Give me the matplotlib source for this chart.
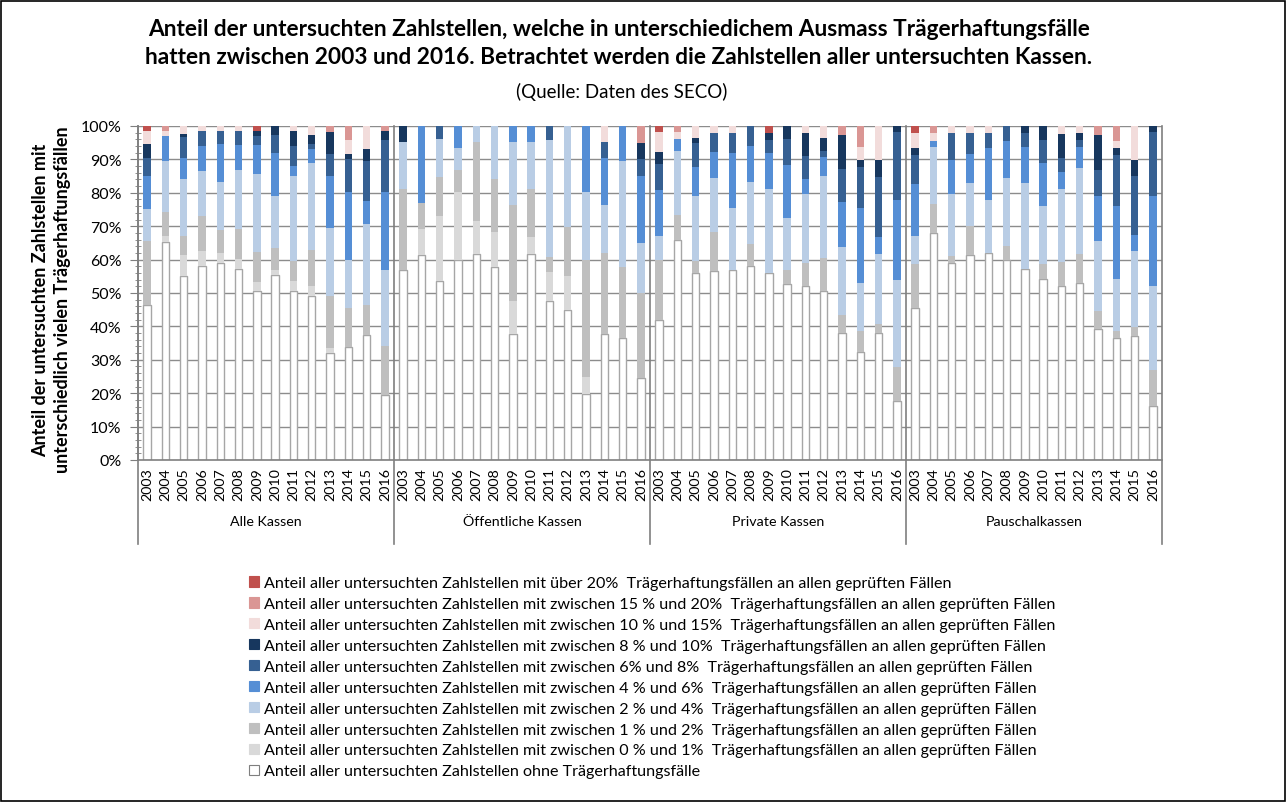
import matplotlib
matplotlib.use("Agg")
import matplotlib.pyplot as plt
import numpy as np
from matplotlib.patches import Rectangle, Patch
from matplotlib.ticker import MultipleLocator, FuncFormatter

plt.rcParams['font.family'] = ['Lato', 'DejaVu Sans']

years = [str(y) for y in range(2003, 2017)]
groups = ["Alle Kassen", "Öffentliche Kassen", "Private Kassen", "Pauschalkassen"]

ohne = [46.5, 65.4, 55.2, 58.2, 59.0, 57.2, 50.6, 55.4, 50.6, 49.0, 31.9, 33.9, 37.5, 19.5,
        56.9, 61.4, 53.6, 59.9, 61.7, 57.8, 37.7, 61.7, 47.5, 44.8, 19.7, 37.7, 36.6, 24.6,
        41.9, 65.9, 56.0, 56.7, 56.9, 58.2, 56.0, 52.7, 52.1, 50.6, 38.0, 32.4, 38.0, 17.6,
        45.4, 67.9, 59.0, 61.5, 62.0, 59.8, 57.2, 54.2, 52.1, 53.0, 39.3, 36.6, 37.2, 16.3]
p0_1 = [0, 1.7, 6.2, 4.4, 3.0, 3.0, 2.8, 1.6, 3.1, 3.0, 1.7, 0, 0, 0,
        0, 7.9, 19.5, 20.2, 9.9, 10.6, 10.0, 5.2, 8.9, 10.2, 5.1, 0, 0, 0,
        0, 0, 0, 0, 0, 0, 0, 0, 0, 0, 0, 0, 0, 0,
        0, 0, 0, 0, 0, 0, 0, 0, 0, 0, 0, 0, 0, 0]
p1_2 = [19.2, 7.3, 5.8, 10.6, 6.9, 8.9, 8.8, 6.6, 6.0, 10.8, 15.6, 11.6, 8.8, 14.6,
        24.2, 7.6, 11.6, 6.6, 23.7, 15.8, 28.5, 14.2, 4.4, 14.9, 35.2, 24.3, 21.2, 25.3,
        17.9, 7.5, 3.7, 11.7, 0, 6.4, 0, 4.1, 6.8, 9.8, 5.3, 6.1, 2.8, 10.2,
        13.3, 8.7, 2.0, 8.6, 0, 4.4, 0, 4.4, 7.3, 8.6, 5.2, 2.1, 2.6, 10.6]
p2_4 = [9.5, 15.1, 17.0, 13.4, 14.3, 17.7, 23.5, 15.5, 25.4, 26.2, 20.4, 14.5, 24.4, 22.9,
        14.2, 0, 11.4, 6.6, 4.7, 15.8, 19.1, 14.2, 35.0, 30.1, 20.1, 14.2, 31.7, 15.0,
        7.4, 19.1, 19.2, 15.9, 18.6, 18.7, 25.2, 15.6, 20.6, 24.5, 20.6, 14.5, 20.8, 26.0,
        8.5, 17.2, 18.5, 12.9, 15.8, 20.3, 25.8, 17.4, 21.7, 25.7, 21.2, 15.6, 22.7, 25.1]
p4_6 = [9.7, 7.6, 6.1, 7.4, 11.3, 7.5, 8.6, 12.7, 2.9, 4.1, 15.3, 20.1, 6.9, 23.1,
        0, 23.1, 0, 6.7, 0, 0, 4.7, 4.7, 0, 0, 19.9, 14.3, 10.5, 20.2,
        13.7, 3.6, 8.8, 7.8, 16.4, 10.7, 10.6, 15.9, 4.7, 5.9, 13.2, 22.5, 5.2, 24.1,
        15.4, 1.8, 10.3, 8.6, 15.5, 11.0, 10.6, 13.0, 5.0, 6.4, 13.3, 21.7, 4.9, 27.1]
p6_8 = [5.4, 0, 6.4, 4.5, 4.0, 4.2, 2.8, 5.5, 6.0, 1.5, 6.7, 9.9, 12.0, 15.7,
        0, 0, 3.9, 0, 0, 0, 0, 0, 4.2, 0, 0, 4.8, 0, 5.0,
        7.7, 0, 7.1, 5.9, 6.1, 6.0, 4.0, 7.8, 6.8, 1.7, 10.1, 12.2, 18.0, 20.2,
        8.7, 0, 8.2, 6.2, 4.5, 4.5, 4.2, 6.8, 4.3, 2.1, 7.8, 15.3, 17.6, 19.0]
p8_10 = [4.2, 0, 0.9, 0, 0, 0, 1.5, 2.7, 4.6, 2.7, 6.7, 1.5, 3.4, 2.7,
         4.7, 0, 0, 0, 0, 0, 0, 0, 0, 0, 0, 0, 0, 4.9,
         3.6, 0, 1.7, 0, 0, 0, 2.2, 3.9, 6.8, 3.8, 10.1, 2.0, 4.9, 1.9,
         2.2, 0, 0, 0, 0, 0, 2.2, 4.2, 7.2, 2.0, 10.5, 2.1, 4.8, 1.9]
p10_15 = [4.0, 1.5, 2.4, 1.5, 1.5, 1.5, 0, 0, 1.4, 2.7, 0, 4.3, 7.0, 0,
          0, 0, 0, 0, 0, 0, 0, 0, 0, 0, 0, 4.7, 0, 0,
          5.9, 2.0, 3.5, 2.0, 2.0, 0, 0, 0, 2.2, 3.7, 0, 4.1, 10.3, 0,
          4.3, 2.4, 2.0, 2.2, 2.2, 0, 0, 0, 2.4, 2.2, 0, 2.2, 10.2, 0]
p15_20 = [0, 1.4, 0, 0, 0, 0, 0, 0, 0, 0, 1.7, 4.2, 0, 1.5,
          0, 0, 0, 0, 0, 0, 0, 0, 0, 0, 0, 0, 0, 5.0,
          0, 1.9, 0, 0, 0, 0, 0, 0, 0, 0, 2.7, 6.2, 0, 0,
          0, 2.0, 0, 0, 0, 0, 0, 0, 0, 0, 2.7, 4.4, 0, 0]
p20 = [1.5, 0, 0, 0, 0, 0, 1.4, 0, 0, 0, 0, 0, 0, 0,
       0, 0, 0, 0, 0, 0, 0, 0, 0, 0, 0, 0, 0, 0,
       1.9, 0, 0, 0, 0, 0, 2.0, 0, 0, 0, 0, 0, 0, 0,
       2.2, 0, 0, 0, 0, 0, 0, 0, 0, 0, 0, 0, 0, 0]

labels = [
    "Anteil aller untersuchten Zahlstellen ohne Trägerhaftungsfälle",
    "Anteil aller untersuchten Zahlstellen mit zwischen 0 % und 1%  Trägerhaftungsfällen an allen geprüften Fällen",
    "Anteil aller untersuchten Zahlstellen mit zwischen 1 % und 2%  Trägerhaftungsfällen an allen geprüften Fällen",
    "Anteil aller untersuchten Zahlstellen mit zwischen 2 % und 4%  Trägerhaftungsfällen an allen geprüften Fällen",
    "Anteil aller untersuchten Zahlstellen mit zwischen 4 % und 6%  Trägerhaftungsfällen an allen geprüften Fällen",
    "Anteil aller untersuchten Zahlstellen mit zwischen 6% und 8%  Trägerhaftungsfällen an allen geprüften Fällen",
    "Anteil aller untersuchten Zahlstellen mit zwischen 8 % und 10%  Trägerhaftungsfällen an allen geprüften Fällen",
    "Anteil aller untersuchten Zahlstellen mit zwischen 10 % und 15%  Trägerhaftungsfällen an allen geprüften Fällen",
    "Anteil aller untersuchten Zahlstellen mit zwischen 15 % und 20%  Trägerhaftungsfällen an allen geprüften Fällen",
    "Anteil aller untersuchten Zahlstellen mit über 20%  Trägerhaftungsfällen an allen geprüften Fällen",
]
series = [ohne, p0_1, p1_2, p2_4, p4_6, p6_8, p8_10, p10_15, p15_20, p20]
colors = ["#FFFFFF", "#D9D9D9", "#BFBFBF", "#B9CDE5", "#558ED5",
          "#366092", "#17375E", "#F2DCDB", "#DA9694", "#C0504D"]

data = np.array(series, dtype=float)
data = data / data.sum(axis=0) * 100.0

fig = plt.figure(figsize=(12.87, 8.03), dpi=100)
W, H = 1287, 803
ax = fig.add_axes([138 / W, 1 - 461 / H, (1162 - 138) / W, (461 - 127) / H])

n = data.shape[1]
x = np.arange(n)
bw = 0.40
for lim in range(10, 101, 10):
    ax.axhline(lim, color="#8C8C8C", lw=1.0, zorder=1)
bottom = np.zeros(n)
handles = []
for i, (vals, col, lab) in enumerate(zip(data, colors, labels)):
    ec = "#A6A6A6" if i == 0 else "none"
    lw = 1.0 if i == 0 else 0
    ax.bar(x, vals, bw, bottom=bottom, color=col, edgecolor=ec, linewidth=lw, zorder=2)
    bottom += vals
    handles.append(Patch(facecolor=col, edgecolor="#7F7F7F" if i == 0 else col, linewidth=0.8, label=lab))

ax.set_xlim(-0.5, n - 0.5)
ax.set_ylim(0, 100)
ax.yaxis.set_major_locator(MultipleLocator(10))
ax.yaxis.set_minor_locator(MultipleLocator(2))
ax.yaxis.set_major_formatter(FuncFormatter(lambda v, p: f"{int(round(v))}%"))
ax.tick_params(axis="y", which="major", labelsize=11.5, length=6, color="#7F7F7F", pad=6)
ax.tick_params(axis="y", which="minor", length=5, direction="inout", color="#7F7F7F")
for s in ["top", "right"]:
    ax.spines[s].set_visible(False)
for s in ["left", "bottom"]:
    ax.spines[s].set_color("#7F7F7F")
    ax.spines[s].set_linewidth(1.2)

ax.set_xticks(x)
ax.set_xticklabels(years * len(groups), rotation=90, fontsize=10.3)
ax.tick_params(axis="x", length=0, pad=5)

# group separators and labels
trans = ax.get_xaxis_transform()
ybot = -(545 - 461) / (461 - 127)
for b in [-0.5, 13.5, 27.5, 41.5, n - 0.5]:
    ax.plot([b, b], [1, ybot], transform=trans, color="#7F7F7F", lw=1.2, clip_on=False, zorder=3)
ygrp = -(522 - 461) / (461 - 127)
for gi, g in enumerate(groups):
    ax.text(gi * 14 + 6.5, ygrp, g, transform=trans, ha="center", va="center", fontsize=10.3)

fig.text(619 / W, 1 - 30 / H,
         "Anteil der untersuchten Zahlstellen, welche in unterschiedichem Ausmass Trägerhaftungsfälle",
         ha="center", va="center", fontsize=16.3, fontweight="bold")
fig.text(619 / W, 1 - 57 / H,
         "hatten zwischen 2003 und 2016. Betrachtet werden die Zahlstellen aller untersuchten Kassen.",
         ha="center", va="center", fontsize=16.3, fontweight="bold")
fig.text(622 / W, 1 - 92 / H, "(Quelle: Daten des SECO)", ha="center", va="center", fontsize=13.5)

fig.text(52 / W, 1 - 300 / H,
         "Anteil der untersuchten Zahlstellen mit\nunterschiedlich vielen Trägerhaftungsfällen",
         rotation=90, ha="center", va="center", fontsize=13, fontweight="bold", linespacing=1.35)

leg = fig.legend(handles=handles[::-1], loc="upper left",
                 bbox_to_anchor=(241 / W, 1 - 569 / H), frameon=False,
                 fontsize=11.6, handlelength=0.62, handleheight=0.62,
                 handletextpad=0.3, labelspacing=0.43, borderpad=0)

fig.patches.append(Rectangle((1 / W, 1 / H), 1 - 3 / W, 1 - 3 / H, transform=fig.transFigure,
                             fill=False, edgecolor="black", linewidth=1.2))

fig.savefig("out.png", dpi=100)
